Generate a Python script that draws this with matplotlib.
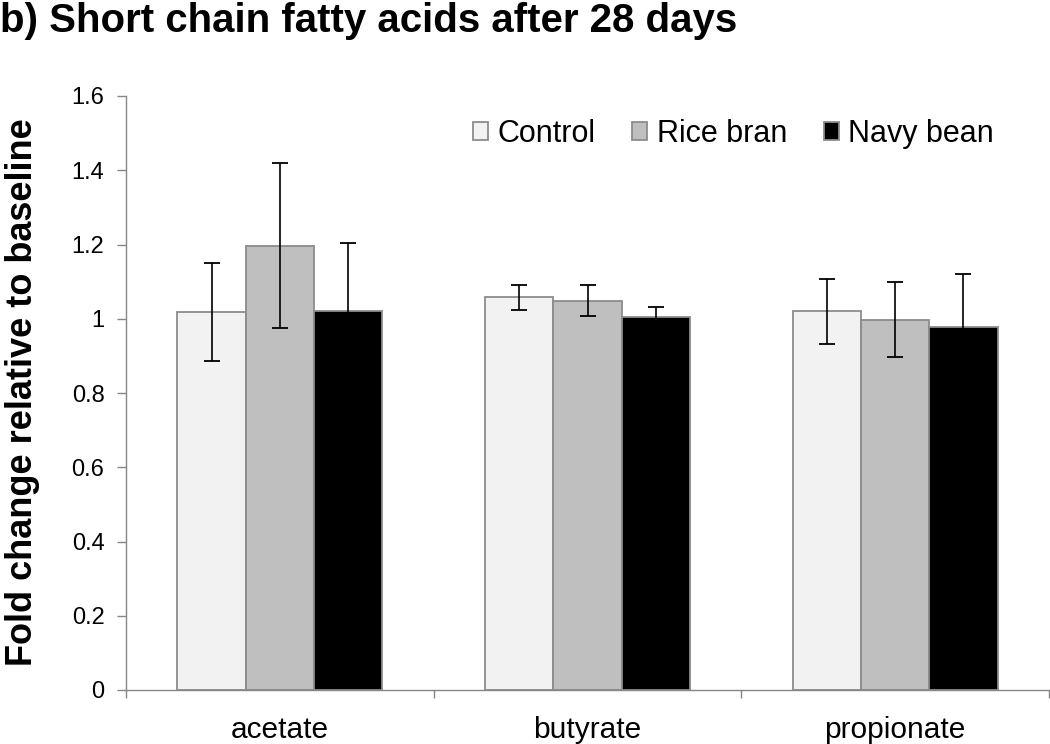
import matplotlib
matplotlib.use("Agg")
import matplotlib.pyplot as plt
import numpy as np

categories = ["acetate", "butyrate", "propionate"]
series = ["Control", "Rice bran", "Navy bean"]
control = [1.018, 1.058, 1.020]
rice_bran = [1.197, 1.049, 0.997]
navy_bean = [1.020, 1.004, 0.977]
control_err = [0.131, 0.034, 0.087]
rice_bran_err = [0.222, 0.042, 0.101]
navy_bean_err = [0.185, 0.028, 0.144]
yticks = [0, 0.2, 0.4, 0.6, 0.8, 1, 1.2, 1.4, 1.6]
ytick_labels = ["0", "0.2", "0.4", "0.6", "0.8", "1", "1.2", "1.4", "1.6"]

values = [control, rice_bran, navy_bean]
errors = [control_err, rice_bran_err, navy_bean_err]
colors = ["#F2F2F2", "#BFBFBF", "#000000"]

plt.rcParams['font.family'] = ['Liberation Sans', 'DejaVu Sans']

fig = plt.figure(figsize=(10.5, 7.44), dpi=100)
ax = fig.add_axes([126/1050, 54/744, (1049-126)/1050, (690-96)/744])

x = np.arange(len(categories))
w = 0.222
for i, (vals, errs, c) in enumerate(zip(values, errors, colors)):
    pos = x + (i - 1) * w
    ax.bar(pos, vals, width=w, color=c, edgecolor="#8C8C8C", linewidth=1.3,
           label=series[i], zorder=2)
    ax.errorbar(pos, vals, yerr=errs, fmt='none', ecolor='black',
                elinewidth=1.2, capsize=5.5, capthick=1.3, zorder=3)

ax.set_xlim(-0.5, len(categories) - 0.5)
ax.set_ylim(0, 1.6)
ax.set_yticks(yticks)
ax.set_yticklabels(ytick_labels, fontsize=17)
ax.set_xticks(x)
ax.set_xticklabels(categories, fontsize=21.5)
ax.set_xticks(np.arange(len(categories) + 1) - 0.5, minor=True)
ax.tick_params(axis='x', which='major', length=0, pad=18.5)
ax.tick_params(axis='x', which='minor', length=6, width=1, color='#868686', direction='out')
ax.tick_params(axis='y', length=6.5, width=1, color='#868686', direction='out', pad=9)

for s in ['top', 'right']:
    ax.spines[s].set_visible(False)
for s in ['left', 'bottom']:
    ax.spines[s].set_color('#868686')
    ax.spines[s].set_linewidth(1.0)

leg = ax.legend(loc='center left', bbox_to_anchor=((473-126)/923, (690-134)/594),
                ncol=3, frameon=False, fontsize=22, handlelength=0.5,
                handleheight=0.5, handletextpad=0.3, columnspacing=1.2,
                borderpad=0, borderaxespad=0)

fig.text(23/1050, 0.4725, "Fold change relative to baseline", rotation=90,
         ha='center', va='center', fontsize=26, fontweight='bold')
fig.text(0.0, 1 - 2/744, "b) Short chain fatty acids after 28 days",
         ha='left', va='top', fontsize=29, fontweight='bold')

fig.savefig("out.png", dpi=100)
